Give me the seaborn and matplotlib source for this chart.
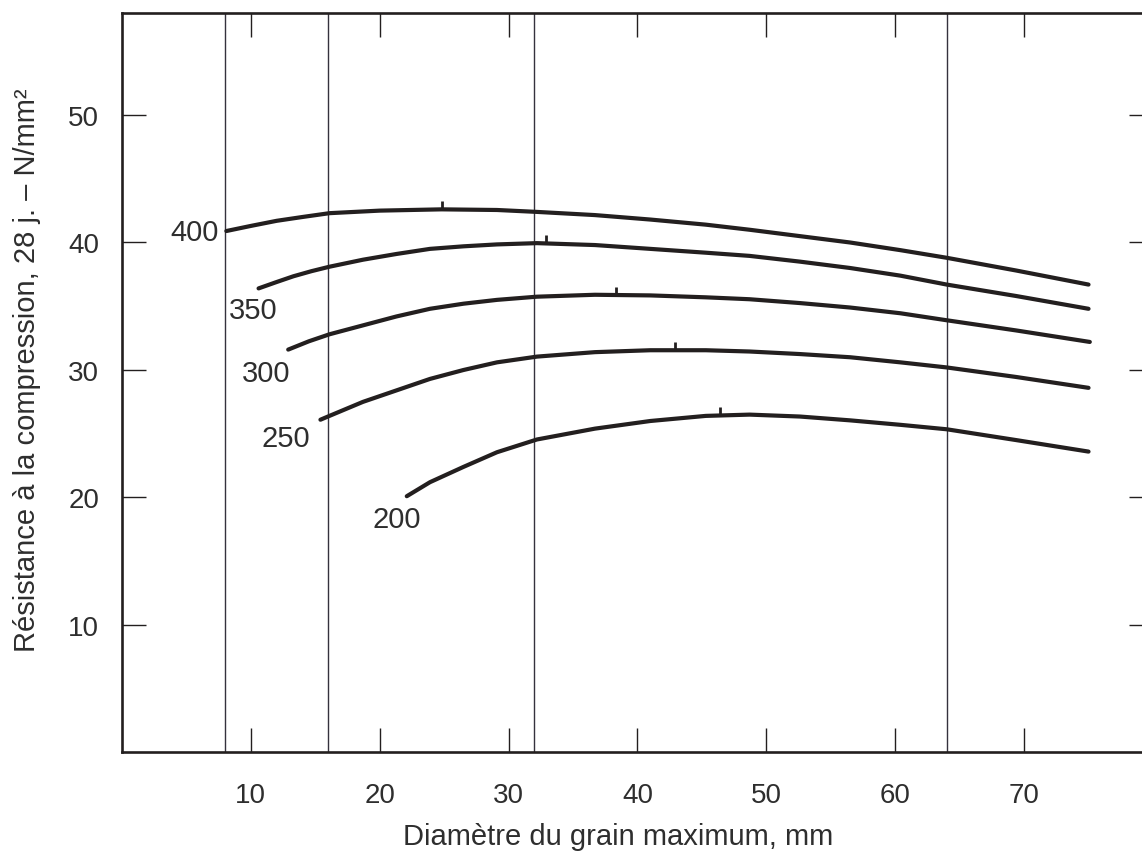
import numpy as np
import pandas as pd
import matplotlib
matplotlib.use("Agg")
import matplotlib.pyplot as plt
from matplotlib.path import Path
import seaborn as sns

# ---- data ----
dosages = ["400", "350", "300", "250", "200"]

x_400 = [8.1, 10.0, 12.0, 14.0, 16.1, 20.0, 24.8, 29.1, 32.2, 36.7, 41.0, 45.3,
         48.7, 52.6, 56.5, 60.4, 64.0, 69.4, 75.0]
y_400 = [40.9, 41.3, 41.7, 42.0, 42.3, 42.5, 42.6, 42.55, 42.4, 42.15, 41.8, 41.4,
         41.0, 40.5, 40.0, 39.4, 38.8, 37.8, 36.7]

x_350 = [10.6, 12.0, 13.3, 14.7, 16.1, 18.7, 21.3, 23.9, 26.5, 29.1, 32.2, 36.7,
         41.0, 45.3, 48.7, 52.6, 56.5, 60.4, 64.0, 69.4, 75.0]
y_350 = [36.4, 36.9, 37.35, 37.75, 38.1, 38.65, 39.1, 39.5, 39.7, 39.85, 39.95, 39.8,
         39.5, 39.2, 38.95, 38.5, 38.0, 37.4, 36.7, 35.8, 34.8]

x_300 = [12.9, 14.5, 16.1, 18.7, 21.3, 23.9, 26.5, 29.1, 32.2, 36.7, 41.0, 45.3,
         48.7, 52.6, 56.5, 60.4, 64.0, 69.4, 75.1]
y_300 = [31.6, 32.25, 32.8, 33.5, 34.2, 34.8, 35.2, 35.5, 35.75, 35.9, 35.85, 35.7,
         35.55, 35.25, 34.9, 34.45, 33.9, 33.1, 32.2]

x_250 = [15.4, 16.1, 18.7, 21.3, 23.9, 26.5, 29.1, 32.2, 36.7, 41.0, 45.3, 48.7,
         52.6, 56.5, 60.4, 64.0, 69.4, 75.0]
y_250 = [26.1, 26.4, 27.5, 28.4, 29.3, 30.0, 30.6, 31.05, 31.4, 31.55, 31.55, 31.45,
         31.25, 31.0, 30.6, 30.2, 29.45, 28.6]

x_200 = [22.1, 23.9, 26.5, 29.1, 32.2, 36.7, 41.0, 45.3, 48.7, 52.6, 56.5, 60.4,
         64.0, 69.4, 75.0]
y_200 = [20.1, 21.2, 22.4, 23.55, 24.55, 25.4, 26.0, 26.4, 26.5, 26.35, 26.05, 25.7,
         25.35, 24.5, 23.6]

peak_x = [24.8, 32.9, 38.3, 42.9, 46.4]
peak_y = [42.6, 39.95, 35.9, 31.55, 26.45]

label_x = [5.6, 10.15, 11.2, 12.7, 21.3]
label_y = [40.8, 34.7, 29.8, 24.7, 18.35]

sieve_sizes = [8, 16, 32, 64]
x_ticks = [10, 20, 30, 40, 50, 60, 70]
y_ticks = [10, 20, 30, 40, 50]

series_x = [x_400, x_350, x_300, x_250, x_200]
series_y = [y_400, y_350, y_300, y_250, y_200]

df = pd.concat(
    [pd.DataFrame({"d": xs, "r": ys, "dosage": name})
     for name, xs, ys in zip(dosages, series_x, series_y)],
    ignore_index=True,
)

# ---- style ----
sns.set_style("white")
plt.rcParams["font.family"] = ["Liberation Sans", "DejaVu Sans"]

ink = "#231f1f"
txt = "#2e2e2e"

fig = plt.figure(figsize=(11.42, 8.54), dpi=100)
ax = fig.add_axes([0.1068, 0.1177, 0.9028, 0.8659])

for xv in sieve_sizes:
    ax.axvline(xv, color="#34323d", lw=1.0, zorder=1)

sns.lineplot(data=df, x="d", y="r", hue="dosage",
             palette={k: ink for k in dosages}, legend=False,
             lw=3.0, ax=ax, zorder=3, estimator=None,
             solid_joinstyle="round", solid_capstyle="round")

tick_marker = Path([(0, 0), (0, 1)], [Path.MOVETO, Path.LINETO])
ax.plot(peak_x, peak_y, ls="none", marker=tick_marker, markersize=12,
        markeredgewidth=2.0, color=ink, zorder=4)

for name, lx, ly in zip(dosages, label_x, label_y):
    ax.text(lx, ly, name, ha="center", va="center", fontsize=21, color=txt)

ax.set_xlim(0, 80)
ax.set_ylim(0, 58)
ax.set_xticks(x_ticks)
ax.set_yticks(y_ticks)
ax.set_xticklabels([str(v) for v in x_ticks], fontsize=20, color=txt)
ax.set_yticklabels([str(v) for v in y_ticks], fontsize=20, color=txt)

ax.tick_params(axis="both", direction="in", length=17, width=1.0, color=ink,
               top=True, right=True, bottom=True, left=True)
ax.tick_params(axis="x", pad=21)
ax.tick_params(axis="y", pad=16.5)

for s in ax.spines.values():
    s.set_color(ink)
    s.set_linewidth(1.9)
    s.set_visible(True)

ax.set_xlabel("Diamètre du grain maximum, mm", fontsize=21, color=txt)
ax.set_ylabel("Résistance à la compression, 28 j. – N/mm²", fontsize=21, color=txt)
ax.xaxis.set_label_coords(0.481, -0.124)
ax.xaxis.label.set_verticalalignment("baseline")
ax.yaxis.set_label_coords(-0.0844, 0.5186)
ax.yaxis.label.set_verticalalignment("baseline")

fig.savefig("out.png", dpi=100, facecolor="white")
